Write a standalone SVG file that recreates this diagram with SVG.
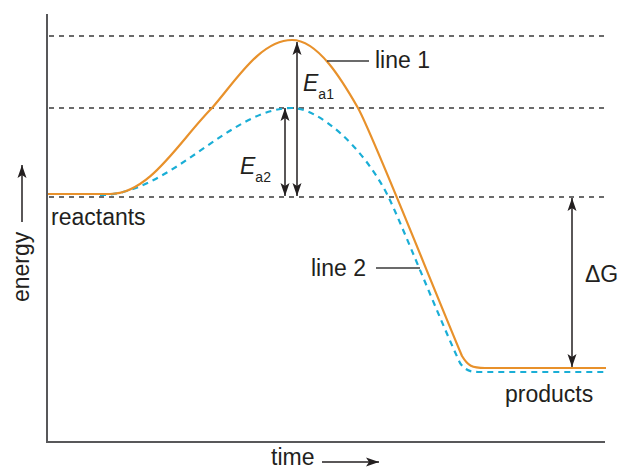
<svg xmlns="http://www.w3.org/2000/svg" width="623" height="470" viewBox="0 0 623 470">
<style>
text { font-family: "Liberation Sans", Arial, sans-serif; fill: #231f20; font-size: 23px; }
.axis { stroke: #58585a; stroke-width: 2; fill: none; }
.guide { stroke: #3a3a3a; stroke-width: 1.3; stroke-dasharray: 5 5; fill: none; }
.arrow { stroke: #231f20; stroke-width: 1.5; fill: none; }
.leader { stroke: #3a3a3a; stroke-width: 1.5; fill: none; }
.line1 { stroke: #e8912b; stroke-width: 2.2; fill: none; }
.line2 { stroke: #1aaed6; stroke-width: 2.2; fill: none; stroke-dasharray: 6 5; }
.sub { font-size: 14px; }
.it { font-style: italic; }
</style>
<defs>
<marker id="ah" markerUnits="userSpaceOnUse" markerWidth="14" markerHeight="10" refX="13" refY="5" orient="auto-start-reverse">
<path d="M0,0.5 L13,5 L0,9.5 L3,5 z" fill="#231f20"/>
</marker>
</defs>
<g id="axes">
<line class="axis" x1="47" y1="14" x2="47" y2="443"/>
<line class="axis" x1="46" y1="442" x2="605" y2="442"/>
</g>
<g id="guides">
<line class="guide" x1="49" y1="36" x2="606" y2="36"/>
<line class="guide" x1="49" y1="108" x2="606" y2="108"/>
<line class="guide" x1="49" y1="197" x2="606" y2="197"/>
</g>
<g id="line2-curve">
<path class="line2" d="M100,195 C170,195 230,108 292,108 C318,108 362,145 388,196 C400,220 440,320 460,363 C465,370 470,372 478,372 L606,372"/>
</g>
<g id="line1-curve">
<path class="line1" d="M48,194 L110,194 C150,194 180,140 212,108 C235,82 260,40 292,40 C318,40 342,80 358,108 C373,135 430,280 462,356 C468,366 472,368 485,368 L606,368"/>
</g>
<g id="connectors">
<line class="arrow" x1="297" y1="42" x2="297" y2="196" marker-start="url(#ah)" marker-end="url(#ah)"/>
<line class="arrow" x1="285" y1="108" x2="285" y2="196" marker-start="url(#ah)" marker-end="url(#ah)"/>
<line class="arrow" x1="572" y1="198" x2="572" y2="367" marker-start="url(#ah)" marker-end="url(#ah)"/>
<line class="arrow" x1="22" y1="222" x2="22" y2="165" marker-end="url(#ah)"/>
<line class="arrow" x1="322" y1="462" x2="379" y2="462" marker-end="url(#ah)"/>
<line class="leader" x1="327" y1="61" x2="369" y2="61"/>
<line class="leader" x1="376" y1="268" x2="420" y2="268"/>
</g>
<g id="label-line1"><text x="375" y="68">line 1</text></g>
<g id="label-line2"><text x="311" y="276">line 2</text></g>
<g id="label-ea1"><text x="303" y="91"><tspan class="it">E</tspan><tspan class="sub" dy="8">a1</tspan></text></g>
<g id="label-ea2"><text x="240" y="174"><tspan class="it">E</tspan><tspan class="sub" dy="8">a2</tspan></text></g>
<g id="label-reactants"><text x="51" y="225">reactants</text></g>
<g id="label-products"><text x="505" y="402">products</text></g>
<g id="label-dg"><text x="585" y="282">ΔG</text></g>
<g id="label-energy"><text transform="translate(29,302) rotate(-90)">energy</text></g>
<g id="label-time"><text x="271" y="465">time</text></g>
</svg>
